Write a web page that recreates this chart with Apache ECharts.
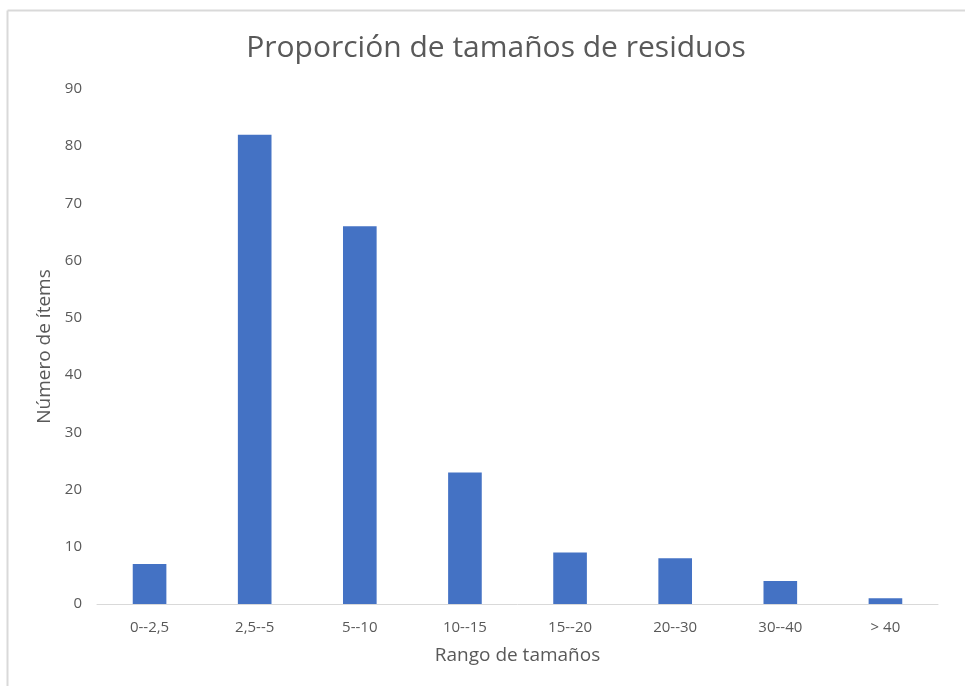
<!DOCTYPE html>
<html>
<head>
<meta charset="utf-8">
<script src="https://cdn.jsdelivr.net/npm/echarts@6/dist/echarts.min.js"></script>
<style>
  html, body { margin: 0; padding: 0; background: #fff; }
  #chart { width: 965px; height: 686px; }
</style>
</head>
<body>
<div id="chart"></div>
<script>
const categories = ['0--2,5', '2,5--5', '5--10', '10--15', '15--20', '20--30', '30--40', '> 40']
const counts = [7, 82, 66, 23, 9, 8, 4, 1]
const yTicks = { min: 0, max: 90, interval: 10 }

const FONT = '"Open Sans", "Noto Sans", sans-serif'
const TEXT = '#595959'

const chart = echarts.init(document.getElementById('chart'), null, { renderer: 'canvas' })

chart.setOption({
  backgroundColor: '#fff',
  animation: false,
  textStyle: { fontFamily: FONT, color: TEXT },
  title: {
    text: 'Proporción de tamaños de residuos',
    left: 491,
    top: 28,
    textAlign: 'center',
    textStyle: { fontFamily: FONT, fontSize: 30, fontWeight: 'normal', color: TEXT },
  },
  graphic: [
    { type: 'line', shape: { x1: 7.5, y1: 10.5, x2: 965, y2: 10.5 }, style: { stroke: '#d9d9d9', lineWidth: 2 } },
    { type: 'line', shape: { x1: 7.5, y1: 10.5, x2: 7.5, y2: 686 }, style: { stroke: '#d9d9d9', lineWidth: 2 } },
  ],
  grid: { left: 97, right: 27, top: 89, bottom: 82, containLabel: false },
  xAxis: {
    type: 'category',
    data: categories,
    name: 'Rango de tamaños',
    nameLocation: 'middle',
    nameGap: 42,
    nameTextStyle: { fontFamily: FONT, fontSize: 19, color: TEXT },
    axisLine: { lineStyle: { color: '#d9d9d9', width: 1 } },
    axisTick: { show: false },
    axisLabel: { fontFamily: FONT, fontSize: 15, color: TEXT, margin: 16 },
  },
  yAxis: {
    type: 'value',
    min: yTicks.min,
    max: yTicks.max,
    interval: yTicks.interval,
    name: 'Número de ítems',
    nameLocation: 'middle',
    nameGap: 39,
    nameTextStyle: { fontFamily: FONT, fontSize: 19, color: TEXT },
    axisLine: { show: false },
    axisTick: { show: false },
    splitLine: { show: false },
    axisLabel: { fontFamily: FONT, fontSize: 15, color: TEXT, margin: 15 },
  },
  series: [{
    type: 'bar',
    data: counts,
    barWidth: '32%',
    itemStyle: { color: '#4472c4' },
  }],
})
</script>
</body>
</html>
